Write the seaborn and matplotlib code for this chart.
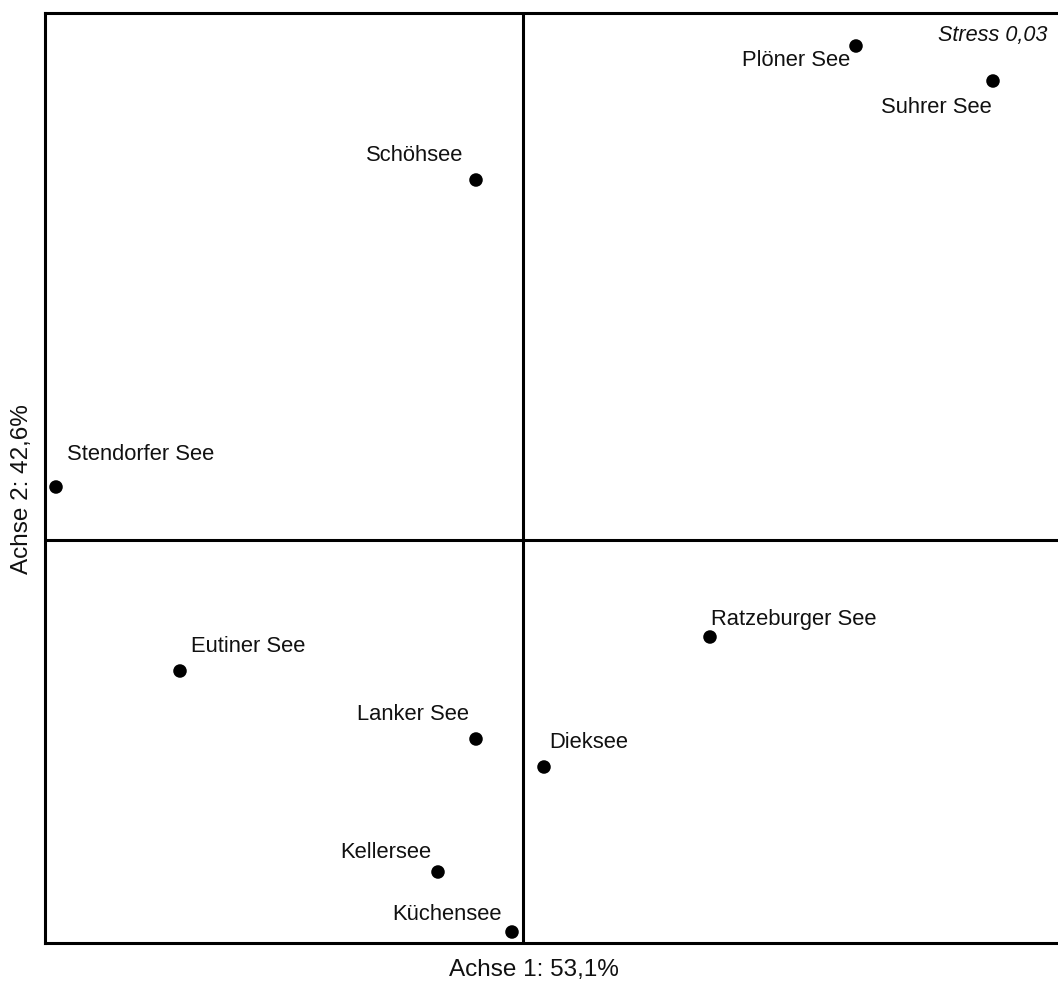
import pandas as pd
import matplotlib
matplotlib.use('Agg')
import matplotlib.pyplot as plt
import seaborn as sns

# NMDS scores of the lakes
lakes = ['Plöner See', 'Suhrer See', 'Schöhsee', 'Stendorfer See', 'Ratzeburger See',
         'Eutiner See', 'Lanker See', 'Dieksee', 'Kellersee', 'Küchensee']
axis1 = [3.33, 4.70, -0.47, -4.67, 1.87, -3.43, -0.47, 0.21, -0.85, -0.11]
axis2 = [4.94, 4.59, 3.60, 0.53, -0.97, -1.31, -1.99, -2.27, -3.32, -3.92]
x_label = 'Achse 1: 53,1%'
y_label = 'Achse 2: 42,6%'
stress_text = 'Stress 0,03'

df = pd.DataFrame({'lake': lakes, 'a1': axis1, 'a2': axis2})

# label placement (pixel offsets, alignment)
label_pos = {
    'Plöner See': (-6, -14, 'right'),
    'Suhrer See': (-1, -26, 'right'),
    'Schöhsee': (-13, 25, 'right'),
    'Stendorfer See': (11, 33, 'left'),
    'Ratzeburger See': (1, 17, 'left'),
    'Eutiner See': (11, 24, 'left'),
    'Lanker See': (-7, 24, 'right'),
    'Dieksee': (5, 25, 'left'),
    'Kellersee': (-7, 20, 'right'),
    'Küchensee': (-10, 17, 'right'),
}

sns.set_style('white')
plt.rcParams['font.family'] = ['Liberation Sans', 'DejaVu Sans']

W, H = 1058, 981
fig = plt.figure(figsize=(W / 100, H / 100), dpi=100)
# axes box in pixels (right spine falls just outside the picture)
left, right, top, bottom = 45, 1062, 13, 943
ax = fig.add_axes([left / W, 1 - bottom / H, (right - left) / W, (bottom - top) / H])

sns.scatterplot(data=df, x='a1', y='a2', color='black', s=95, edgecolor='none', ax=ax, zorder=3)
ax.axhline(0, color='black', lw=2.2, zorder=2)
ax.axvline(0, color='black', lw=2.2, zorder=2)

for _, r in df.iterrows():
    dx, dy, ha = label_pos[r['lake']]
    ax.annotate(r['lake'], (r['a1'], r['a2']), xytext=(dx, dy), textcoords='offset pixels',
                ha=ha, va='center', fontsize=15.8, color='#111111')

ax.annotate(stress_text, xy=((1047 - left) / (right - left), 1 - (35 - top) / (bottom - top)),
            xycoords='axes fraction', ha='right', va='center', fontsize=15.6,
            style='italic', color='#111111')

ax.set_xlim(-4.78, 5.39)
ax.set_ylim(-4.03, 5.27)
ax.set_xticks([])
ax.set_yticks([])
ax.set_xlabel(x_label, fontsize=17.5, color='#111111')
ax.set_ylabel(y_label, fontsize=17.5, color='#111111')
ax.xaxis.set_label_coords((534 - left) / (right - left), -(970 - bottom) / (bottom - top))
ax.yaxis.set_label_coords((22 - left) / (right - left), (bottom - 489) / (bottom - top))
ax.xaxis.label.set_va('center')
ax.yaxis.label.set_va('center')
for sp in ax.spines.values():
    sp.set_color('black')
    sp.set_linewidth(2.2)

fig.savefig('out.png', dpi=100)
